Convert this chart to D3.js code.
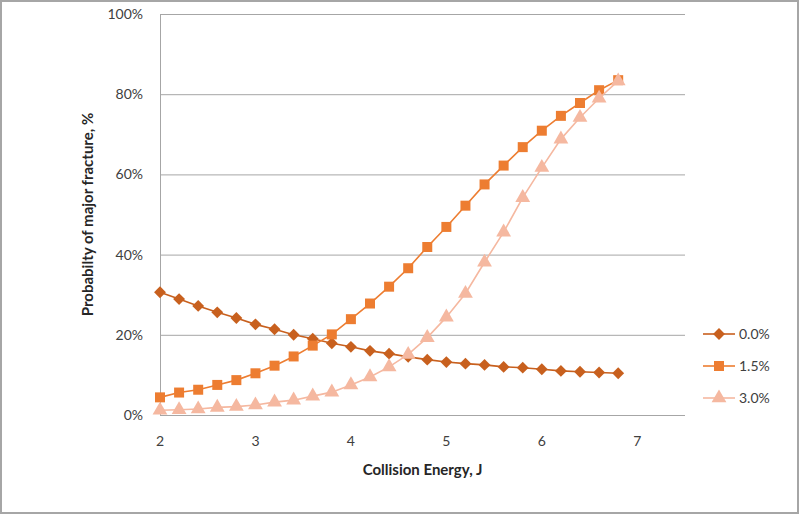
<!DOCTYPE html>
<html><head><meta charset="utf-8">
<script src="https://cdn.jsdelivr.net/npm/d3@7"></script>
<style>
html,body{margin:0;padding:0;background:#fff;}
svg{display:block;font-family:Lato,"Open Sans",sans-serif;}
</style></head>
<body><svg id="c" width="800" height="515"></svg>
<script>
const energies = [2.0,2.2,2.4,2.6,2.8,3.0,3.2,3.4,3.6,3.8,4.0,4.2,4.4,4.6,4.8,5.0,5.2,5.4,5.6,5.8,6.0,6.2,6.4,6.6,6.8];
const series0 = [30.6,28.9,27.2,25.6,24.2,22.6,21.4,20.0,19.0,17.9,17.0,16.0,15.3,14.5,13.8,13.2,12.8,12.5,12.0,11.8,11.4,11.0,10.8,10.6,10.4];
const series15 = [4.4,5.6,6.3,7.5,8.7,10.4,12.3,14.6,17.3,20.1,23.9,27.8,32.0,36.6,41.9,46.9,52.2,57.5,62.2,66.8,70.9,74.6,77.8,81.0,83.5];
const series30 = [1.2,1.3,1.5,1.9,2.1,2.5,3.2,3.7,4.7,5.7,7.5,9.5,12.0,15.1,19.3,24.4,30.3,38.1,45.6,54.2,61.7,68.8,74.2,79.0,83.3];
const seriesNames = ["0.0%","1.5%","3.0%"];
const xTicks = [2,3,4,5,6,7];
const yTicks = [0,20,40,60,80,100];

const colors = ["#C8601E","#ED7D31","#F5B8A0"];
const symbols = [d3.symbolDiamond2, d3.symbolSquare, d3.symbolTriangle];
const symSizes = [90, 100, 95];

const svg = d3.select("#c");
svg.append("rect").attr("x",1).attr("y",1).attr("width",797).attr("height",512)
  .attr("fill","#fff").attr("stroke","#a6a6a6").attr("stroke-width",2);

const x = d3.scaleLinear().domain([2,7.5]).range([160,685]);
const y = d3.scaleLinear().domain([0,100]).range([415,14]);

svg.append("g").selectAll("line").data(yTicks).join("line")
  .attr("x1",160).attr("x2",685)
  .attr("y1",d=>y(d)+0.5).attr("y2",d=>y(d)+0.5)
  .attr("stroke","#a6a6a6").attr("stroke-width",1);
svg.append("line").attr("x1",160.5).attr("x2",160.5).attr("y1",14).attr("y2",415)
  .attr("stroke","#a6a6a6").attr("stroke-width",1);

svg.append("g").selectAll("text").data(yTicks).join("text")
  .attr("x",143).attr("y",d=>y(d)).attr("dy","0.35em")
  .attr("text-anchor","end").attr("font-size",14).attr("fill","#404040")
  .text(d=>d+"%");
svg.append("g").selectAll("text").data(xTicks).join("text")
  .attr("x",d=>x(d)).attr("y",441).attr("dy","0.35em")
  .attr("text-anchor","middle").attr("font-size",14).attr("fill","#404040")
  .text(d=>d);

svg.append("text").attr("x",(160+685)/2).attr("y",470).attr("dy","0.35em")
  .attr("text-anchor","middle").attr("font-size",15).attr("font-weight","bold").attr("fill","#262626")
  .text("Collision Energy, J");
svg.append("text").attr("transform",`translate(88,${(14+415)/2}) rotate(-90)`).attr("dy","0.35em")
  .attr("text-anchor","middle").attr("font-size",15).attr("font-weight","bold").attr("fill","#262626")
  .text("Probabilty of major fracture, %");

const allSeries = [series0, series15, series30];
const line = d3.line().x(d=>x(d[0])).y(d=>y(d[1]));
allSeries.forEach((vals,i)=>{
  const pts = energies.map((e,j)=>[e,vals[j]]);
  const g = svg.append("g");
  g.append("path").datum(pts).attr("d",line).attr("fill","none")
    .attr("stroke",colors[i]).attr("stroke-width",1.6);
  g.selectAll("path.m").data(pts).join("path").attr("class","m")
    .attr("transform",d=>`translate(${x(d[0])},${y(d[1])})`)
    .attr("d",d3.symbol().type(symbols[i]).size(symSizes[i]))
    .attr("fill",colors[i]);
});

const legY = [334,366,398];
seriesNames.forEach((n,i)=>{
  const g = svg.append("g").attr("transform",`translate(0,${legY[i]})`);
  g.append("line").attr("x1",703).attr("x2",735).attr("y1",0).attr("y2",0)
    .attr("stroke",colors[i]).attr("stroke-width",1.6);
  g.append("path").attr("transform","translate(719,0)")
    .attr("d",d3.symbol().type(symbols[i]).size(symSizes[i]))
    .attr("fill",colors[i]);
  g.append("text").attr("x",739).attr("y",0).attr("dy","0.35em")
    .attr("font-size",14).attr("fill","#404040").text(n);
});
</script></body></html>
